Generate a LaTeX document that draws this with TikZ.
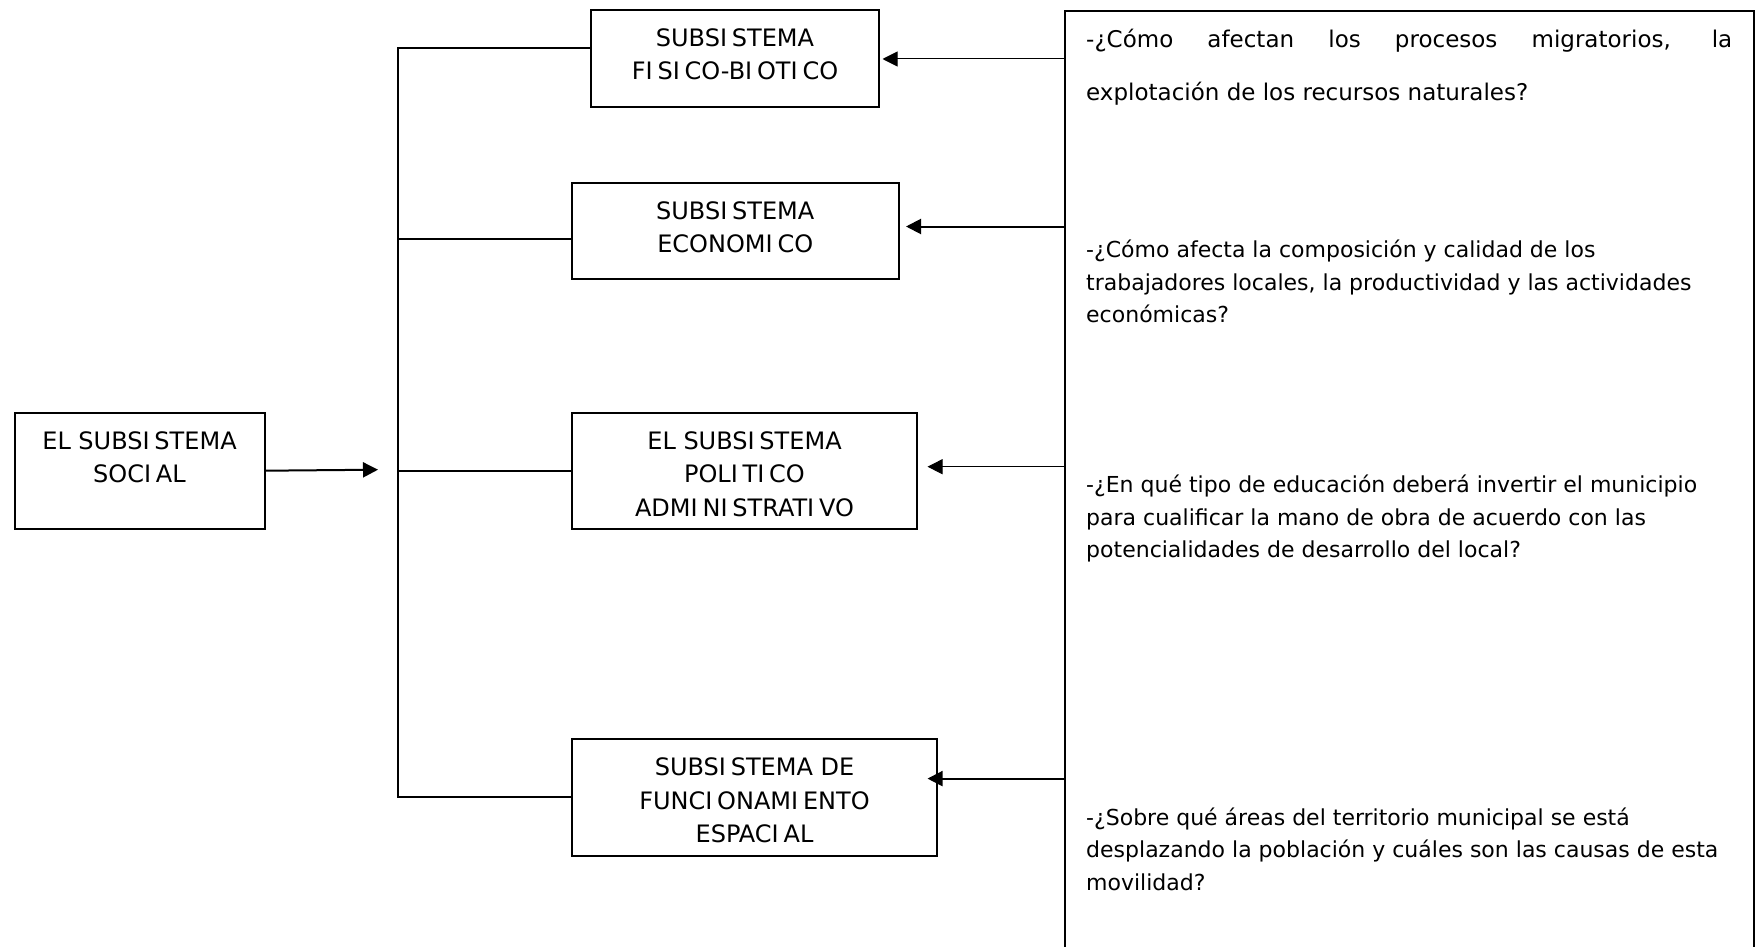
\documentclass[tikz,border=0pt]{standalone}
\usepackage{fontspec}
\setmainfont{DejaVu Sans}
\usetikzlibrary{arrows.meta}
\newcommand{\Ig}{I\kern0.2em}
\newcommand{\bxt}[3]{\parbox[c][#2][t]{#1}{\centering\rule{0pt}{36.5pt}#3}}
\begin{document}
\begin{tikzpicture}[x=1pt,y=-1pt,
  box/.style={draw, line width=2pt, inner sep=0pt, anchor=north west, font=\fontsize{24}{33.5}\selectfont},
  bigbox/.style={draw, line width=2.5pt, inner sep=0pt, anchor=north west},
  para/.style={inner sep=0pt, anchor=base west, font=\fontsize{22}{32.5}\selectfont},
  link/.style={line width=2pt},
  thinarr/.style={line width=1pt, -{Triangle[length=15pt,width=15pt]}},
  thickarr/.style={line width=2pt, -{Triangle[length=15pt,width=15pt]}}]
\useasboundingbox (0,0) rectangle (1758,947);

% boxes
\node[box] (soc) at (13.5,411.8) {\bxt{250pt}{115.8pt}{EL SUBS\Ig STEMA\\SOC\Ig AL}};
\node[box] (fis) at (590,9) {\bxt{288pt}{96.7pt}{SUBS\Ig STEMA\\F\Ig S\Ig CO-B\Ig OT\Ig CO}};
\node[box] (eco) at (571,181.7) {\bxt{326.5pt}{96pt}{SUBS\Ig STEMA\\ECONOM\Ig CO}};
\node[box] (pol) at (571,411.8) {\bxt{345pt}{115.8pt}{EL SUBS\Ig STEMA\\POL\Ig T\Ig CO\\ADM\Ig N\Ig STRAT\Ig VO}};
\node[box] (fun) at (571,738) {\bxt{365pt}{116.5pt}{SUBS\Ig STEMA DE\\FUNC\Ig ONAM\Ig ENTO\\ESPAC\Ig AL}};

% right question box (bottom edge lies below the page)
\node[bigbox, minimum width=689pt, minimum height=990pt] (q) at (1063.5,10) {};

% questions
\node[para, font=\fontsize{23}{32.5}\selectfont] (p1) at (1086,47.5) {\parbox[t]{680pt}{\raggedright\makebox[646pt][s]{-¿Cómo afectan los procesos migratorios, la}\\[21pt]explotación de los recursos naturales?}};
\node[para] (p2) at (1086,257.5) {\parbox[t]{680pt}{\raggedright -¿Cómo afecta la composición y calidad de los\\trabajadores locales, la productividad y las actividades\\económicas?}};
\node[para] (p3) at (1086,492.5) {\parbox[t]{680pt}{\raggedright -¿En qué tipo de educación deberá invertir el municipio\\para cualificar la mano de obra de acuerdo con las\\potencialidades de desarrollo del local?}};
\node[para] (p4) at (1086,825) {\parbox[t]{680pt}{\raggedright -¿Sobre qué áreas del territorio municipal se está\\desplazando la población y cuáles son las causas de esta\\movilidad?}};

% tree connectors
\coordinate (jf) at (398,47.7);
\coordinate (je) at (398,239.3);
\coordinate (tipS) at (378,469.7);
\draw[link] (fis.west |- jf) -- (jf) -- (jf |- fun.west) -- (fun.west);
\draw[link] (je) -- (je -| eco.west);
\draw[link] (jf |- pol.west) -- (pol.west);
\draw[thickarr] (soc.east) -- (tipS);

% arrows from the questions
\coordinate (af) at (882.5,59);
\coordinate (ae) at (906,226.5);
\coordinate (ap) at (927.5,466.7);
\coordinate (au) at (927.5,778.6);
\draw[thinarr] (q.west |- af) -- (af);
\draw[thickarr] (q.west |- ae) -- (ae);
\draw[thinarr] (q.west |- ap) -- (ap);
\draw[thickarr] (q.west |- au) -- (au);
\end{tikzpicture}
\end{document}
